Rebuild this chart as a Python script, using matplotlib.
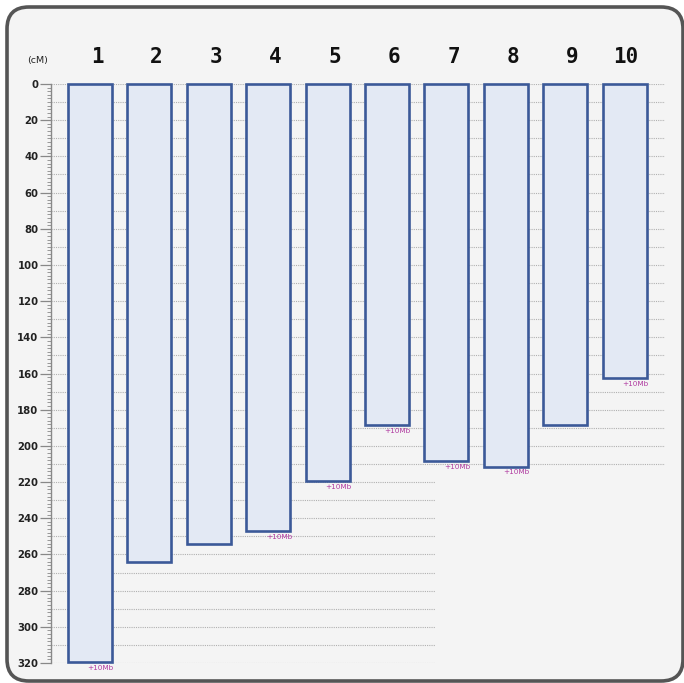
import numpy as np
import matplotlib.pyplot as plt
from matplotlib.patches import FancyBboxPatch

# chromosome lengths (cM)
chroms = ["1", "2", "3", "4", "5", "6", "7", "8", "9", "10"]
lengths = [319.5, 264.0, 254.5, 247.0, 219.5, 188.5, 208.5, 211.5, 188.5, 162.5]
# chromosomes flagged with the "+10Mb" note
flag_note = ["1", "4", "5", "6", "7", "8", "10"]

grid_full = np.arange(0, 211, 10)
grid_short = np.arange(220, 321, 10)

W, H = 684, 683
fig = plt.figure(figsize=(W / 100, H / 100), dpi=100)
fig.patch.set_facecolor("white")

# rounded panel behind everything
panel = FancyBboxPatch((7 / W, 2 / H), 676 / W, 674 / H,
                       boxstyle="round,pad=0,rounding_size=0.032",
                       transform=fig.transFigure, facecolor="#f4f4f4",
                       edgecolor="#555555", linewidth=2.6, zorder=-5)
fig.patches.append(panel)

# axes mapped so that x=1..10 are the chromosome columns
left_px, right_px, top_px, bot_px = 51, 665, 84, 663
ax = fig.add_axes([left_px / W, 1 - bot_px / H, (right_px - left_px) / W, (bot_px - top_px) / H])
ax.set_zorder(2)
ax.set_facecolor("none")
step = 59.4
x0 = 1 - (90 - left_px) / step
x1 = 1 + (right_px - 90) / step
ax.set_xlim(x0, x1)
ax.set_ylim(320, 0)

xs = np.arange(1, len(chroms) + 1)
x_short = 1 + (435 - 90) / step

ax.hlines(grid_full, x0, x1, colors="#b0b0b0", linestyles=(0, (1, 1)), linewidth=0.8, zorder=1)
ax.hlines(grid_short, x0, x_short, colors="#b0b0b0", linestyles=(0, (1, 1)), linewidth=0.8, zorder=1)

bw = 44 / step
ax.bar(xs, lengths, width=bw, bottom=0, align="center", color="#e3e9f4",
       edgecolor="#3b5998", linewidth=1.9, zorder=3, clip_on=False)

for x, name, ln in zip(xs, chroms, lengths):
    dx = 0.12 if len(name) == 1 else 0.02
    ax.text(x + dx, -15, name, ha="center", va="center", fontsize=15, fontweight="bold",
            family="DejaVu Sans Mono", color="#111111", clip_on=False)
    if name in flag_note:
        ax.text(x + bw / 2 + 0.03, ln + 1.5, "+10Mb", ha="right", va="top", fontsize=5.2,
                color="#b03aa0", clip_on=False, zorder=4)

ax.text(x0 - 0.22, -13, "(cM)", ha="center", va="center", fontsize=6.8,
        color="#222222", clip_on=False)

# axis styling
for s in ["top", "right", "bottom"]:
    ax.spines[s].set_visible(False)
ax.spines["left"].set_color("#888888")
ax.spines["left"].set_linewidth(1.0)
ax.set_xticks([])
ax.set_yticks(np.arange(0, 321, 20))
ax.set_yticks(np.arange(0, 321, 2), minor=True)
ax.tick_params(axis="y", which="major", length=8, width=0.9, color="#888888",
               labelsize=7.3, labelcolor="#222222", pad=1)
ax.tick_params(axis="y", which="minor", length=3, width=0.6, color="#888888")
for lab in ax.get_yticklabels():
    lab.set_fontweight("bold")

fig.savefig("out.png", dpi=100)
